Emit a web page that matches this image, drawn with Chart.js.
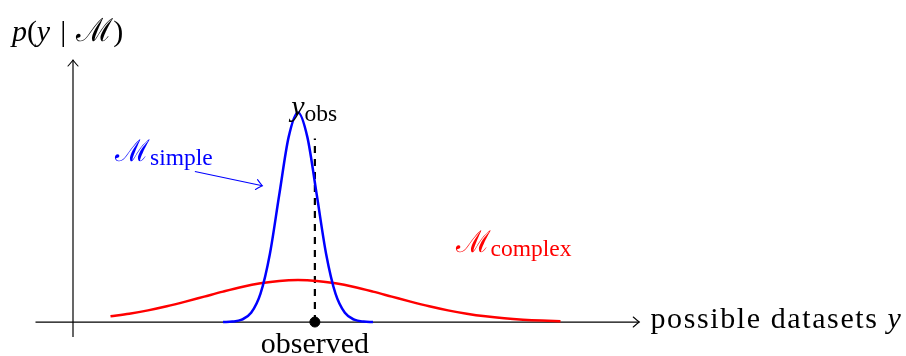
<!DOCTYPE html>
<html>
<head>
<meta charset="utf-8">
<script src="https://cdn.jsdelivr.net/npm/chart.js@4"></script>
<style>body { margin: 0; background: #fff; }</style>
</head>
<body>
<canvas id="chart" width="906" height="356"></canvas>
<script>
// possible datasets y (horizontal) and p(y | M) for each model
const simpleY = [4, 4.25, 4.5, 4.75, 5, 5.25, 5.5, 5.75, 6, 6.25, 6.5, 6.75, 7, 7.25, 7.5, 7.75, 8];
const simpleP = [0.002, 0.012, 0.062, 0.246, 0.758, 1.82, 3.4, 4.94, 5.6, 4.94, 3.4, 1.82, 0.758, 0.246, 0.062, 0.012, 0.002];

const complexY = [1, 1.5, 2, 2.5, 3, 3.5, 4, 4.5, 5, 5.5, 6, 6.5, 7, 7.5, 8, 8.5, 9, 9.5, 10, 10.5, 11, 11.5, 12, 12.5, 13];
const complexP = [0.152, 0.222, 0.311, 0.42, 0.545, 0.679, 0.813, 0.936, 1.034, 1.098, 1.12, 1.098, 1.034, 0.936, 0.813, 0.679, 0.545, 0.42, 0.311, 0.222, 0.152, 0.1, 0.063, 0.038, 0.022];

const yObs = 6.45;
const obsLineTop = 4.9;

const xAxisRange = [-1, 15.1];
const yAxisRange = [-0.4, 7];

const xAxisLabel = 'possible datasets ';
const yAxisLabel = ['p', '(', 'y', '|', 'ℳ', ')'];
const simpleLabel = ['ℳ', 'simple'];
const complexLabel = ['ℳ', 'complex'];
const obsLabel = ['y', 'obs'];
const obsTick = 'observed';

const SERIF = '"Liberation Serif", "DejaVu Serif", serif';
const toPts = (xs, ys) => xs.map((v, i) => ({ x: v, y: ys[i] }));

function arrowHead(ctx, x, y, angle, color) {
    ctx.save();
    ctx.translate(x, y);
    ctx.rotate(angle);
    ctx.strokeStyle = color;
    ctx.lineWidth = 1.1;
    ctx.lineCap = 'round';
    ctx.beginPath();
    ctx.moveTo(-6, -5);
    ctx.quadraticCurveTo(-1.5, -1, 0, 0);
    ctx.quadraticCurveTo(-1.5, 1, -6, 5);
    ctx.stroke();
    ctx.restore();
}

// draws pieces of text one after the other: [text, font, dy, gapAfter]
function runs(ctx, x, y, parts, color) {
    ctx.fillStyle = color;
    ctx.textBaseline = 'alphabetic';
    ctx.textAlign = 'left';
    parts.forEach(p => {
        ctx.font = p[1];
        ctx.fillText(p[0], x, y + (p[2] || 0));
        x += ctx.measureText(p[0]).width + (p[3] || 0);
    });
}

const decorations = {
    id: 'decorations',
    afterDraw(chart) {
        const ctx = chart.ctx;
        const px = v => chart.scales.x.getPixelForValue(v);
        const py = v => chart.scales.y.getPixelForValue(v);
        const main = '30px ' + SERIF;
        const ital = 'italic 30px ' + SERIF;
        const sub = '23.5px ' + SERIF;

        ctx.save();
        arrowHead(ctx, px(xAxisRange[1]), py(0), 0, '#000');
        arrowHead(ctx, px(0), py(yAxisRange[1]), -Math.PI / 2, '#000');

        // y axis title
        runs(ctx, px(-1.63), py(7.5), [
            [yAxisLabel[0], ital], [yAxisLabel[1], main], [yAxisLabel[2], ital, 0, 10],
            [yAxisLabel[3], main, 0, 10], [yAxisLabel[4], '32px ' + SERIF], [yAxisLabel[5], main]
        ], '#000');

        // x axis title
        ctx.letterSpacing = '1.6px';
        runs(ctx, px(15.4), py(-0.17), [[xAxisLabel, main], ['y', ital]], '#000');
        ctx.letterSpacing = '0px';

        // observed
        ctx.font = main;
        ctx.fillStyle = '#000';
        ctx.textAlign = 'center';
        ctx.fillText(obsTick, px(yObs), py(-0.83));

        // y_obs
        runs(ctx, px(5.82), py(5.5), [[obsLabel[0], ital], [obsLabel[1], sub, 5]], '#000');

        // M_simple and its arrow
        runs(ctx, px(1.12), py(4.3), [[simpleLabel[0], main], [simpleLabel[1], sub, 4]], '#0000ff');
        const x0 = px(3.25), y0 = py(4.02), x1 = px(5.05), y1 = py(3.64);
        ctx.strokeStyle = '#0000ff';
        ctx.lineWidth = 1.1;
        ctx.beginPath();
        ctx.moveTo(x0, y0);
        ctx.lineTo(x1, y1);
        ctx.stroke();
        arrowHead(ctx, x1, y1, Math.atan2(y1 - y0, x1 - x0), '#0000ff');

        // M_complex
        runs(ctx, px(10.2), py(1.87), [[complexLabel[0], main], [complexLabel[1], sub, 4]], '#ff0000');
        ctx.restore();
    }
};

new Chart(document.getElementById('chart'), {
    type: 'scatter',
    data: {
        datasets: [
            {
                data: [{ x: yObs, y: 0 }],
                pointRadius: 5,
                pointBackgroundColor: '#000',
                pointBorderColor: '#000',
                showLine: false
            },
            {
                data: toPts(simpleY, simpleP),
                borderColor: '#0000ff',
                borderWidth: 2.5,
                showLine: true,
                pointRadius: 0,
                cubicInterpolationMode: 'monotone'
            },
            {
                data: toPts(complexY, complexP),
                borderColor: '#ff0000',
                borderWidth: 2.5,
                showLine: true,
                pointRadius: 0,
                cubicInterpolationMode: 'monotone'
            },
            {
                data: [{ x: yObs, y: 0 }, { x: yObs, y: obsLineTop }],
                borderColor: '#000',
                borderWidth: 2.2,
                borderDash: [7, 6],
                showLine: true,
                pointRadius: 0
            },
            {
                data: [{ x: xAxisRange[0], y: 0 }, { x: xAxisRange[1], y: 0 }],
                borderColor: '#000',
                borderWidth: 1.2,
                showLine: true,
                pointRadius: 0
            },
            {
                data: [{ x: 0, y: yAxisRange[0] }, { x: 0, y: yAxisRange[1] }],
                borderColor: '#000',
                borderWidth: 1.2,
                showLine: true,
                pointRadius: 0
            }
        ]
    },
    options: {
        responsive: false,
        animation: false,
        devicePixelRatio: 1,
        clip: false,
        layout: { padding: { left: 35.5, right: 270.5, top: 60, bottom: 19 } },
        scales: {
            x: { type: 'linear', display: false, min: -1, max: 15 },
            y: { type: 'linear', display: false, min: yAxisRange[0], max: yAxisRange[1] }
        },
        plugins: { legend: { display: false }, tooltip: { enabled: false } }
    },
    plugins: [decorations]
});
</script>
</body>
</html>
